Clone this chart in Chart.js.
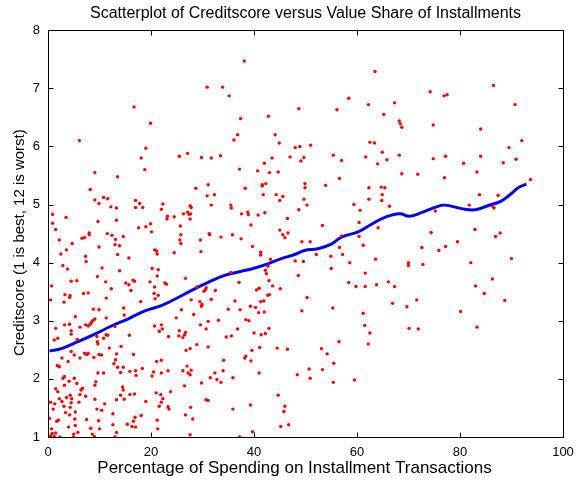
<!DOCTYPE html>
<html>
<head>
<meta charset="utf-8">
<script src="https://cdn.jsdelivr.net/npm/chart.js@4.4.1/dist/chart.umd.min.js"></script>
<style>
  html, body { margin: 0; padding: 0; background: #fff; }
  #chart { display: block; }
</style>
</head>
<body>
<canvas id="chart" width="578" height="484"></canvas>
<script>
// Percentage of spending on installment transactions (x) and creditscore (y)
const spendShare = [
  16.7, 19.9, 6.1, 19.0, 18.1,
  38.1, 30.9, 33.9, 35.2, 48.7, 42.8, 37.4, 36.8, 44.1, 36.1, 44.9, 48.9, 48.0, 25.5, 27.1, 29.8, 31.7, 33.5, 42.0, 43.5, 47.0, 49.1, 49.7,
  63.5, 74.2, 58.4, 62.2, 67.3, 56.1, 65.2, 68.2, 68.4, 68.7, 74.8, 51.0, 62.5, 63.4, 64.9, 55.4, 57.0, 61.7, 68.2, 65.8, 64.0, 74.8,
  86.5, 76.9, 77.5, 90.7, 84.0, 92.0, 89.5, 77.2, 84.0, 80.7, 88.4, 90.9,
  9.1, 18.8, 13.5, 8.2, 10.8, 11.6, 9.1, 9.9, 17.0, 17.8,
  12.2, 13.3, 17.0, 18.4, 22.3, 22.0, 0.9, 3.5, 23.2, 23.1,
  24.5, 0.9, 9.7, 13.3, 1.5, 17.6, 19.0, 19.9, 20.1, 8.0,
  8.0, 11.5, 12.4, 14.6, 6.6, 7.1, 13.1, 2.2, 4.7, 13.0,
  13.9, 9.9, 3.6, 20.7, 21.1, 21.2, 24.5, 2.5, 13.5, 7.3,
  15.7, 7.4, 2.9, 3.8, 10.5, 13.9, 20.2, 21.4, 9.6, 21.2,
  4.5, 5.6, 11.2, 15.1, 15.7, 16.5, 16.8, 19.8, 22.7, 23.0,
  0.7, 20.7, 12.3, 16.1, 6.9, 7.8, 3.3, 4.3, 4.2, 20.6,
  21.4, 20.8, 11.3, 0.5, 18.0, 3.1,
  37.2, 40.7, 43.0, 44.7, 28.7, 31.1, 38.3, 41.6, 42.3, 41.6,
  30.9, 32.3, 41.8, 44.3, 45.6, 45.0, 49.7, 27.6, 27.8, 31.7,
  35.5, 35.6, 26.3, 27.1, 27.4, 27.7, 27.6, 37.6, 38.8, 38.9,
  40.8, 42.1, 48.7, 46.5, 25.7, 39.4, 45.0, 46.6, 45.6, 46.0,
  25.8, 25.6, 25.8, 31.3, 31.4, 33.6, 35.8, 37.5, 29.6, 49.3,
  39.7, 29.7, 41.3, 41.3, 43.2, 48.0, 49.6, 42.7, 42.2, 42.4,
  35.5, 26.7, 37.1, 42.9, 48.6, 43.6, 28.9, 30.6, 30.7, 30.3,
  32.5, 40.5, 41.0, 45.1, 42.7, 43.0, 27.8, 29.5, 31.7, 36.3,
  41.3, 41.9,
  68.7, 71.8, 56.6, 49.9, 49.9, 50.3, 53.9, 62.3, 64.7, 65.4,
  64.9, 62.3, 64.8, 59.4, 66.3, 60.6, 60.4, 53.3, 64.1, 74.4,
  57.0, 60.4, 50.9, 61.2, 56.6, 72.6, 52.1, 54.9, 57.2, 63.6,
  58.6, 70.0, 70.0, 72.8, 55.0, 61.6, 58.4, 59.8, 61.6, 63.8,
  66.1, 67.3, 50.3, 71.6,
  83.3, 77.0, 93.7, 83.8, 87.4, 81.8, 86.4, 86.6, 75.2, 82.9,
  87.8, 86.9, 79.5, 77.2, 75.9, 90.0, 82.1, 86.3, 83.0, 84.7, 88.7,
  8.8, 9.9, 14.7, 5.3, 11.3, 14.8, 9.1, 8.7, 8.4, 8.2,
  7.3, 7.8, 3.2, 4.2, 1.5, 4.5, 6.2, 4.5, 1.9, 5.7,
  1.2, 13.0, 20.7, 22.0, 22.2, 21.6, 11.3, 11.6, 15.8, 9.5,
  10.8, 9.6, 9.7, 11.9, 14.2, 23.4, 4.5, 5.1, 7.1, 7.5,
  7.8, 9.9, 10.4, 13.3, 16.6, 2.7, 6.2, 8.9, 13.1, 3.9,
  22.0, 21.1, 12.8, 1.8, 2.2, 13.5, 14.6, 23.3, 18.3, 15.9,
  17.0, 20.5, 22.0, 9.7, 10.8, 14.1, 17.1, 20.2, 3.2, 2.9,
  5.1, 3.2, 4.1, 5.6, 9.3, 9.1, 1.5, 1.9, 6.7, 6.4,
  14.5, 14.6, 4.3, 6.2, 7.3, 14.1, 15.9, 16.8, 21.0, 21.9,
  23.8, 2.2, 3.6, 4.6, 0.5, 1.3, 2.7, 4.5, 6.0, 9.1,
  13.3, 14.8, 19.0, 22.3, 22.0, 3.1, 11.0, 1.0, 4.3, 9.5,
  10.4, 21.6, 23.3, 23.5, 3.4, 5.3, 4.2, 12.6, 18.1, 0.3,
  2.0, 1.7, 5.2, 7.5, 9.8, 16.9, 16.6, 21.2, 5.3, 12.6,
  15.4, 16.3, 17.0, 0.7, 4.0, 8.3, 10.0, 0.8, 1.5, 5.0,
  5.8, 8.6, 13.3, 21.3, 0.5, 1.2, 2.3, 4.9, 9.0, 13.0,
  29.9, 29.8, 25.9, 24.9, 28.3, 35.0, 37.3, 39.3, 40.3, 40.9,
  42.0, 49.3, 31.1, 33.1, 29.6, 38.4, 39.0, 30.7, 36.8, 42.9,
  25.5, 26.7, 26.5, 25.4, 26.2, 40.0, 41.4, 42.2, 34.6, 35.6,
  28.9, 31.1, 27.6, 26.8, 39.6, 41.1, 44.5, 46.5, 38.2, 38.4,
  39.4, 34.1, 27.0, 26.2, 27.8, 27.2, 27.6, 34.0, 32.4, 41.0,
  48.4, 31.5, 32.8, 35.9, 33.6, 29.8, 26.5, 44.7, 30.7, 31.1,
  39.3, 46.0, 27.7, 35.9, 45.8, 26.7, 28.1, 46.7, 45.2, 39.7,
  27.6, 37.2,
  55.3, 61.2, 66.9, 69.7, 61.5, 62.5, 70.1, 71.9, 56.5, 62.2,
  53.1, 54.2, 55.5, 50.7, 53.3, 50.9, 55.4, 59.5,
  80.1, 83.3
];
const creditScore = [
  6.68, 6.40, 6.10, 5.97, 5.80,
  7.47, 7.02, 7.02, 6.87, 6.65, 6.52, 6.48, 6.20, 6.20, 6.11, 6.06, 6.00, 5.98, 5.83, 5.88, 5.81, 5.80, 5.84, 5.71, 5.80, 5.82, 5.75, 5.81,
  7.29, 6.94, 6.83, 6.72, 6.75, 6.63, 6.55, 6.44, 6.39, 6.33, 6.37, 6.02, 6.07, 6.06, 5.90, 5.85, 5.76, 5.82, 5.85, 5.77, 5.70, 5.79,
  7.05, 6.87, 6.89, 6.72, 6.30, 6.10, 5.98, 5.83, 5.83, 5.71, 5.72, 5.78,
  5.55, 5.60, 5.48, 5.26, 5.12, 5.10, 5.08, 5.02, 5.07, 5.02,
  4.96, 4.94, 4.95, 4.95, 5.01, 4.92, 4.83, 4.78, 4.80, 4.75,
  4.79, 4.68, 4.71, 4.73, 4.57, 4.60, 4.62, 4.67, 4.53, 4.51,
  4.48, 4.50, 4.47, 4.45, 4.42, 4.43, 4.40, 4.39, 4.33, 4.31,
  4.29, 4.27, 4.22, 4.22, 4.20, 4.15, 4.17, 4.15, 4.14, 4.11,
  4.08, 4.02, 3.95, 3.89, 3.91, 3.86, 3.90, 3.88, 3.76, 3.77,
  3.68, 3.69, 3.67, 3.65, 3.62, 3.70, 3.68, 3.67, 3.65, 3.63,
  3.60, 3.58, 3.55, 3.52, 3.47, 3.48, 3.45, 3.43, 3.40, 3.47,
  3.44, 3.38, 3.39, 3.36, 3.33, 3.32,
  5.61, 5.58, 5.55, 5.56, 5.28, 5.34, 5.28, 5.34, 5.36, 5.32,
  5.15, 5.17, 5.17, 5.17, 5.14, 5.07, 5.09, 4.98, 4.95, 4.99,
  4.99, 4.94, 4.84, 4.87, 4.83, 4.84, 4.75, 4.84, 4.87, 4.83,
  4.82, 4.86, 4.91, 4.76, 4.63, 4.65, 4.56, 4.51, 4.48, 4.43,
  4.48, 4.39, 4.33, 4.50, 4.48, 4.44, 4.48, 4.41, 4.39, 4.36,
  4.28, 4.19, 4.18, 4.13, 4.06, 4.03, 4.02, 3.94, 3.87, 3.81,
  3.83, 3.73, 3.66, 3.69, 3.78, 3.60, 3.58, 3.54, 3.57, 3.51,
  3.52, 3.53, 3.56, 3.55, 3.44, 3.45, 3.36, 3.33, 3.37, 3.34,
  3.33, 3.34,
  5.53, 5.52, 5.45, 5.36, 5.29, 4.99, 5.33, 5.29, 5.30, 5.29,
  5.17, 5.09, 5.07, 5.00, 4.97, 4.90, 4.69, 4.64, 4.60, 4.52,
  4.46, 4.45, 4.36, 4.30, 4.26, 4.26, 4.14, 4.11, 4.14, 4.06,
  4.00, 4.00, 3.95, 3.97, 3.90, 3.82, 3.66, 3.59, 3.59, 3.62,
  3.67, 3.59, 3.40, 3.36,
  5.56, 5.46, 5.43, 5.17, 5.16, 4.99, 4.96, 4.94, 4.89, 4.57,
  4.51, 4.45, 4.36, 4.28, 4.21, 4.07, 4.00, 3.72, 3.60, 3.47, 3.35,
  3.20, 3.19, 3.22, 3.07, 3.05, 3.10, 3.03, 3.00, 2.97, 2.94,
  2.93, 2.91, 2.93, 2.94, 2.87, 2.83, 2.89, 2.77, 2.70, 2.68,
  2.67, 2.90, 2.91, 2.93, 2.86, 2.82, 2.76, 2.75, 2.75, 2.73,
  2.70, 2.64, 2.60, 2.53, 2.56, 2.73, 2.47, 2.41, 2.44, 2.42,
  2.44, 2.42, 2.41, 2.43, 2.42, 2.36, 2.36, 2.37, 2.33, 2.30,
  2.32, 2.30, 2.26, 2.23, 2.21, 2.20, 2.20, 2.14, 2.18, 2.13,
  2.14, 2.12, 2.10, 2.10, 2.10, 2.11, 2.06, 2.05, 2.04, 2.01,
  2.01, 1.89, 1.96, 1.92, 1.95, 1.89, 1.83, 1.78, 1.84, 1.81,
  1.86, 1.81, 1.72, 1.73, 1.70, 1.72, 1.73, 1.74, 1.76, 1.73,
  1.78, 1.66, 1.68, 1.66, 1.60, 1.57, 1.61, 1.59, 1.60, 1.65,
  1.64, 1.65, 1.61, 1.66, 1.60, 1.53, 1.57, 1.48, 1.51, 1.48,
  1.46, 1.53, 1.52, 1.48, 1.42, 1.43, 1.38, 1.40, 1.37, 1.32,
  1.29, 1.27, 1.31, 1.30, 1.28, 1.34, 1.27, 1.29, 1.20, 1.21,
  1.22, 1.18, 1.17, 1.14, 1.17, 1.15, 1.14, 1.06, 1.07, 1.05,
  1.08, 1.05, 1.08, 1.14, 1.02, 1.01, 1.00, 1.00, 1.01, 1.00,
  3.28, 3.25, 3.19, 3.05, 3.11, 3.20, 3.19, 3.25, 3.23, 3.14,
  3.15, 3.17, 2.99, 3.01, 2.93, 3.02, 3.00, 2.86, 2.86, 2.87,
  2.83, 2.80, 2.76, 2.74, 2.71, 2.79, 2.76, 2.78, 2.72, 2.74,
  2.59, 2.55, 2.52, 2.49, 2.49, 2.54, 2.53, 2.51, 2.36, 2.39,
  2.31, 2.32, 2.22, 2.14, 2.15, 2.10, 2.07, 2.14, 2.10, 2.10,
  2.07, 2.02, 1.99, 2.02, 1.94, 1.93, 1.88, 1.72, 1.64, 1.63,
  1.55, 1.53, 1.51, 1.48, 1.44, 1.38, 1.31, 1.21, 1.18, 1.09,
  1.04, 1.00,
  3.22, 3.13, 3.30, 3.24, 2.92, 2.79, 2.87, 2.86, 2.64, 2.60,
  2.52, 2.43, 2.27, 2.17, 2.16, 2.01, 1.94, 1.98,
  3.16, 2.89
];

// smoothed trend (blue curve)
const trendX = [0.3, 2.6, 5.8, 9.1, 12.3, 15.5, 18.8, 22.0, 24.6, 27.8, 31.1, 34.3, 37.5, 39.8, 42.7, 45.3, 47.9, 49.8,
  52.4, 55.0, 57.0, 60.2, 62.8, 65.4, 68.3, 70.2, 72.5, 75.1, 77.0, 80.3, 82.9, 85.4, 88.0, 90.0, 91.3, 92.9];
const trendY = [2.48, 2.52, 2.64, 2.77, 2.91, 3.03, 3.17, 3.26, 3.37, 3.52, 3.66, 3.78, 3.85, 3.90, 3.98, 4.07, 4.14, 4.21,
  4.24, 4.32, 4.44, 4.53, 4.66, 4.78, 4.84, 4.80, 4.86, 4.95, 4.99, 4.93, 4.91, 4.98, 5.06, 5.19, 5.29, 5.35];

const xTicks = [0, 20, 40, 60, 80, 100];
const yTicks = [1, 2, 3, 4, 5, 6, 7, 8];

const xLabel = 'Percentage of Spending on Installment Transactions';
const yLabel = 'Creditscore (1 is best, 12 is worst)';

const FONT = "'Liberation Sans', Arial, Helvetica, sans-serif";

// MATLAB-like box with inward ticks on all four sides, plus the axis labels
const boxPlugin = {
    id: 'box',
    afterDraw(chart) {
        const { ctx, chartArea: a, scales } = chart;
        const L = Math.round(a.left) + 0.5, R = Math.round(a.right) + 0.5;
        const T = Math.round(a.top) + 0.5, B = Math.round(a.bottom) + 0.5;
        ctx.save();
        ctx.strokeStyle = '#000';
        ctx.lineWidth = 1;
        ctx.strokeRect(L, T, R - L, B - T);
        ctx.beginPath();
        xTicks.forEach(v => {
            const px = Math.round(scales.x.getPixelForValue(v)) + 0.5;
            ctx.moveTo(px, B); ctx.lineTo(px, B - 5);
            ctx.moveTo(px, T); ctx.lineTo(px, T + 5);
        });
        yTicks.forEach(v => {
            const py = Math.round(scales.y.getPixelForValue(v)) + 0.5;
            ctx.moveTo(L, py); ctx.lineTo(L + 5, py);
            ctx.moveTo(R, py); ctx.lineTo(R - 5, py);
        });
        ctx.stroke();

        ctx.fillStyle = '#000';
        ctx.textAlign = 'center';
        ctx.textBaseline = 'middle';
        ctx.font = '17px ' + FONT;
        ctx.fillText(xLabel, (a.left + a.right) / 2 - 11, a.bottom + 31);
        ctx.font = '15px ' + FONT;
        ctx.translate(a.left - 28, (a.top + a.bottom) / 2 + 9);
        ctx.rotate(-Math.PI / 2);
        ctx.fillText(yLabel, 0, 0);
        ctx.restore();
    }
};

const ctx = document.getElementById('chart').getContext('2d');

new Chart(ctx, {
    type: 'scatter',
    data: {
        datasets: [
            {
                type: 'scatter',
                data: spendShare.map((x, i) => ({ x: x, y: creditScore[i] })),
                backgroundColor: '#ff0000',
                borderWidth: 0,
                pointRadius: 1.7,
                pointHoverRadius: 1.7
            },
            {
                type: 'line',
                data: trendX.map((x, i) => ({ x: x, y: trendY[i] })),
                borderColor: '#0000ff',
                borderWidth: 3,
                pointRadius: 0,
                tension: 0.4,
                fill: false
            }
        ]
    },
    options: {
        responsive: false,
        animation: false,
        layout: { padding: { left: 0, right: 15, top: 0, bottom: 0 } },
        plugins: {
            legend: { display: false },
            tooltip: { enabled: false },
            title: {
                display: true,
                fullSize: false,
                text: 'Scatterplot of Creditscore versus Value Share of Installments',
                color: '#000',
                font: { family: FONT, size: 16, weight: 'normal' },
                padding: { top: 4, bottom: 7 }
            }
        },
        scales: {
            x: {
                type: 'linear',
                min: 0,
                max: 100,
                afterBuildTicks: s => { s.ticks = xTicks.map(v => ({ value: v })); },
                afterFit: s => { s.height = 484 - 437; s.paddingLeft = 0; s.paddingRight = 0; },
                grid: { display: false, drawTicks: false },
                border: { display: false },
                ticks: { color: '#000', font: { family: FONT, size: 13 }, padding: 8, maxRotation: 0 }
            },
            y: {
                type: 'linear',
                min: 1,
                max: 8,
                afterBuildTicks: s => { s.ticks = yTicks.map(v => ({ value: v })); },
                afterFit: s => { s.width = 48; s.paddingTop = 0; s.paddingBottom = 0; },
                grid: { display: false, drawTicks: false },
                border: { display: false },
                ticks: { color: '#000', font: { family: FONT, size: 13 }, padding: 8 }
            }
        }
    },
    plugins: [boxPlugin]
});
</script>
</body>
</html>
